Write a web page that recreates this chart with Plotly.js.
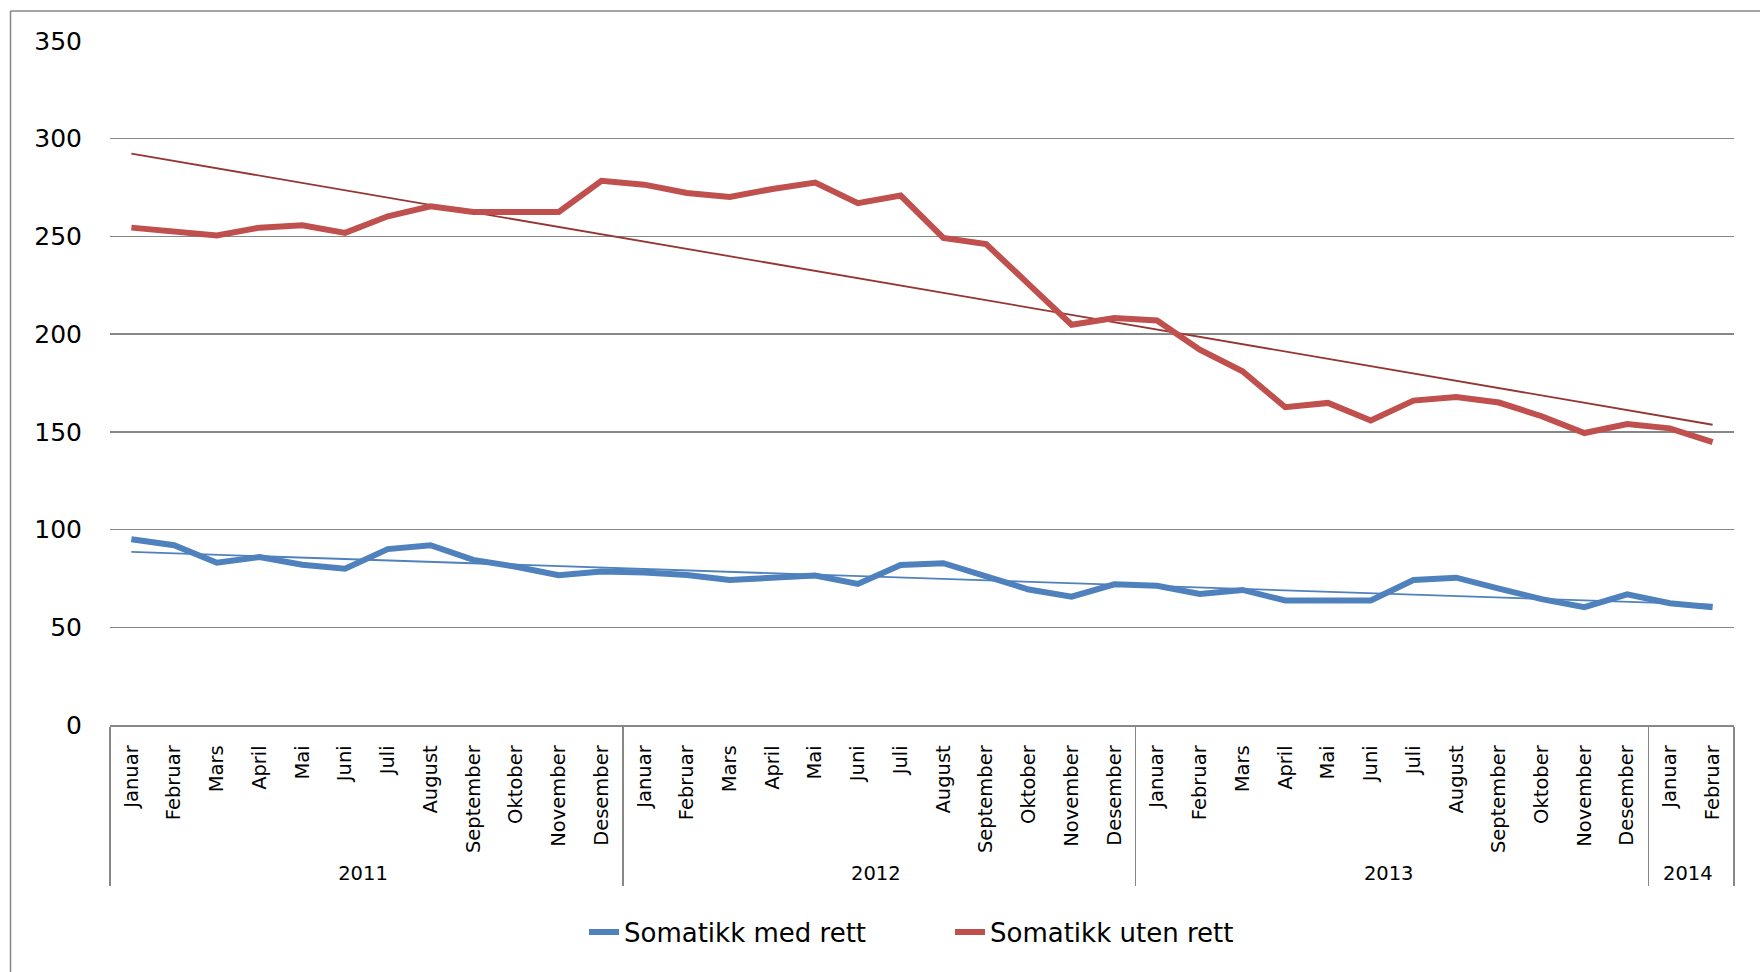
<!DOCTYPE html>
<html>
<head>
<meta charset="utf-8">
<script src="https://cdn.plot.ly/plotly-3.0.1.min.js"></script>
<style>
html,body{margin:0;padding:0;background:#fff;}
#chart{width:1760px;height:972px;}
</style>
</head>
<body>
<div id="chart"></div>
<script>
// ---- data ----
const monthNames = ['Januar','Februar','Mars','April','Mai','Juni','Juli','August','September','Oktober','November','Desember'];
const periodYears = ['2011','2012','2013','2014'];
const monthsInYear = [12, 12, 12, 2];

const seriesNames = ['Somatikk med rett', 'Somatikk uten rett'];

const medRett = [95, 92, 83, 86, 82, 80, 90, 92, 84.5, 81, 76.6, 78.5,
                 78, 76.8, 74.2, 75.6, 76.5, 72.2, 81.9, 82.8, 76, 69.3, 65.7, 72,
                 71.2, 67.1, 69.1, 63.7, 63.7, 63.7, 74.2, 75.4, 69.8, 64.4, 60.3, 66.9,
                 62.3, 60.3];

const utenRett = [254.5, 252.5, 250.5, 254.5, 255.7, 251.8, 260.3, 265.4, 262.5, 262.5, 262.5, 278.5,
                  276.5, 272.2, 270.2, 274.3, 277.6, 267, 270.9, 249.2, 246.1, 225.5, 204.8, 208.2,
                  207, 192, 181, 162.6, 164.8, 155.8, 166, 167.8, 165, 158, 149.4, 154,
                  151.8, 144.8];

// ---- category axis (two levels) ----
const xYear = [], xMonth = [];
periodYears.forEach((y, i) => {
  for (let m = 0; m < monthsInYear[i]; m++) { xYear.push(y); xMonth.push(monthNames[m]); }
});

// linear (least squares) trendline, as the spreadsheet draws it
function trend(vals) {
  const n = vals.length;
  let sx = 0, sy = 0, sxy = 0, sxx = 0;
  vals.forEach((v, i) => { sx += i; sy += v; sxy += i * v; sxx += i * i; });
  const b = (n * sxy - sx * sy) / (n * sxx - sx * sx);
  const a = (sy - b * sx) / n;
  return vals.map((_, i) => a + b * i);
}

const blue = '#4F81BD', red = '#C0504D';
const grid = '#878787';
const F = 'DejaVu Sans, Verdana, sans-serif';

const traces = [
  {x: [xYear, xMonth], y: trend(medRett), type: 'scatter', mode: 'lines',
   line: {color: blue, width: 1.8}, showlegend: false, hoverinfo: 'skip'},
  {x: [xYear, xMonth], y: trend(utenRett), type: 'scatter', mode: 'lines',
   line: {color: '#943634', width: 1.8}, showlegend: false, hoverinfo: 'skip'},
  {x: [xYear, xMonth], y: medRett, name: seriesNames[0], type: 'scatter', mode: 'lines',
   line: {color: blue, width: 6}},
  {x: [xYear, xMonth], y: utenRett, name: seriesNames[1], type: 'scatter', mode: 'lines',
   line: {color: red, width: 6}}
];

const L = 110, R = 26, T = 41, B = 247;
const W = 1760, H = 972;
const pw = W - L - R, ph = H - T - B;
const px = v => (v - L) / pw;
const py = v => (H - B - v) / ph;

const layout = {
  width: W, height: H,
  margin: {l: L, r: R, t: T, b: B, pad: 0},
  paper_bgcolor: '#fff', plot_bgcolor: '#fff',
  font: {family: F, color: '#000'},
  xaxis: {
    type: 'multicategory',
    range: [-0.5, 37.5],
    showgrid: false, zeroline: false,
    showline: true, linecolor: grid, linewidth: 1.5,
    showdividers: true, dividercolor: grid, dividerwidth: 1.5,
    ticks: '', ticklabelstandoff: 11,
    tickangle: -90,
    tickfont: {family: F, size: 19.5, color: '#000'}
  },
  yaxis: {
    range: [0, 350], tick0: 0, dtick: 50,
    showgrid: true, gridcolor: grid, gridwidth: 1.5,
    zeroline: false, showline: false,
    ticks: 'outside', ticklen: 22, tickcolor: 'rgba(0,0,0,0)',
    tickfont: {family: F, size: 25, color: '#000'}
  },
  legend: {
    orientation: 'h', x: px(584), xanchor: 'left', y: py(932), yanchor: 'middle',
    font: {family: F, size: 26, color: '#000'},
    entrywidth: 321, entrywidthmode: 'pixels',
    traceorder: 'normal', bgcolor: 'rgba(0,0,0,0)'
  },
  shapes: [
    {type: 'line', xref: 'paper', yref: 'paper', x0: px(10.5), x1: px(10.5), y0: py(11), y1: py(990),
     line: {color: grid, width: 1.5}},
    {type: 'line', xref: 'paper', yref: 'paper', x0: px(10.5), x1: px(1780), y0: py(11), y1: py(11),
     line: {color: grid, width: 1.5}}
  ],
  showlegend: true
};

Plotly.newPlot('chart', traces, layout, {displayModeBar: false, staticPlot: true});
</script>
</body>
</html>
